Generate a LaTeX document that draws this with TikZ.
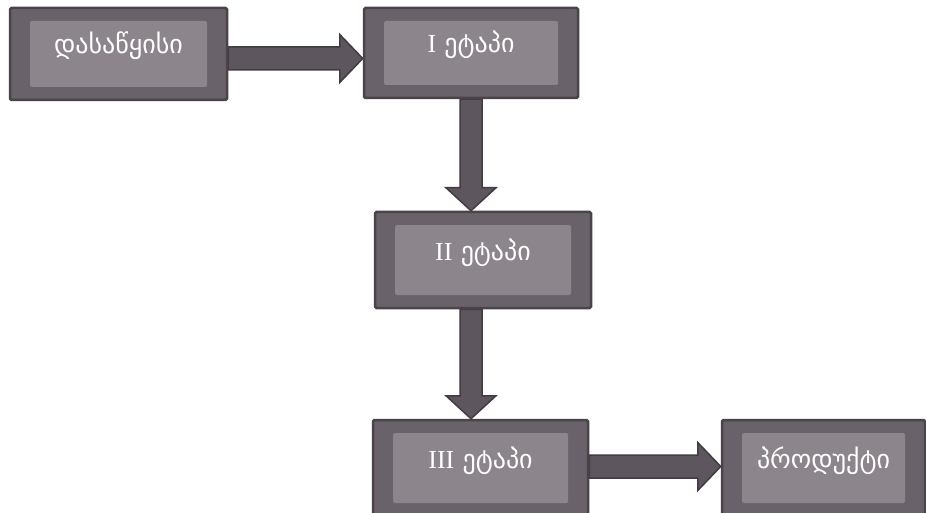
\documentclass[tikz,border=0pt]{standalone}
\usepackage{fontspec}
\setmainfont{Liberation Serif}
\newfontfamily\geo{DejaVu Sans}
\usetikzlibrary{calc}
\pgfdeclarelayer{bg}
\pgfsetlayers{bg,main}
\definecolor{boxedge}{HTML}{4A434A}
\definecolor{boxouter}{HTML}{6A626A}
\definecolor{boxinner}{HTML}{8C858C}
\definecolor{arrowfill}{HTML}{5E565E}
\definecolor{arrowedge}{HTML}{423C42}
\tikzset{
  stagebox/.style={rectangle, draw=boxedge, line width=2.5pt, fill=boxouter,
    rounded corners=1.5pt, inner sep=0pt, text=white,
    font=\geo\fontsize{26}{30}\selectfont, text height=14pt, text depth=14pt,
    path picture={\fill[boxinner]
      ([shift={(20pt,13pt)}]path picture bounding box.south west) rectangle
      ([shift={(-20pt,-13pt)}]path picture bounding box.north east);}},
  arrowbody/.style={fill=arrowfill, draw=arrowedge, line width=1.5pt, line join=miter}
}
\newcommand{\HArrow}[3]{%
  \draw[arrowbody] let \p1=(#1.east), \p2=(#2.west) in
    (\x1,#3+11.5pt) -- (\x2-23pt,#3+11.5pt) -- (\x2-23pt,#3+24pt) -- (\x2,#3)
    -- (\x2-23pt,#3-24pt) -- (\x2-23pt,#3-11.5pt) -- (\x1,#3-11.5pt) -- cycle;}
\newcommand{\VArrow}[3]{%
  \draw[arrowbody] let \p1=(#1.south), \p2=(#2.north) in
    (#3-11pt,\y1) -- (#3-11pt,\y2+23pt) -- (#3-25pt,\y2+23pt) -- (#3,\y2)
    -- (#3+25pt,\y2+23pt) -- (#3+11pt,\y2+23pt) -- (#3+11pt,\y1) -- cycle;}
\begin{document}
\begin{tikzpicture}[x=1pt,y=1pt]
\useasboundingbox (0,0) rectangle (926,-513);
\node[stagebox, minimum width=217pt, minimum height=92pt] (b1) at (118.5,-54) {დასაწყისი};
\node[stagebox, minimum width=214pt, minimum height=90pt] (b2) at (471,-53) {{\rmfamily I} ეტაპი};
\node[stagebox, minimum width=216pt, minimum height=96pt] (b3) at (483,-260) {{\rmfamily II} ეტაპი};
\node[stagebox, minimum width=215pt, minimum height=96pt] (b4) at (480.5,-468) {{\rmfamily III} ეტაპი};
\node[stagebox, minimum width=203pt, minimum height=96pt] (b5) at (823.5,-468) {პროდუქტი};
\begin{pgfonlayer}{bg}
\fill[white] (0,0) rectangle (926,-513);
\HArrow{b1}{b2}{-58.5pt}
\VArrow{b2}{b3}{471pt}
\VArrow{b3}{b4}{471pt}
\HArrow{b4}{b5}{-466.5pt}
\end{pgfonlayer}
\end{tikzpicture}
\end{document}
